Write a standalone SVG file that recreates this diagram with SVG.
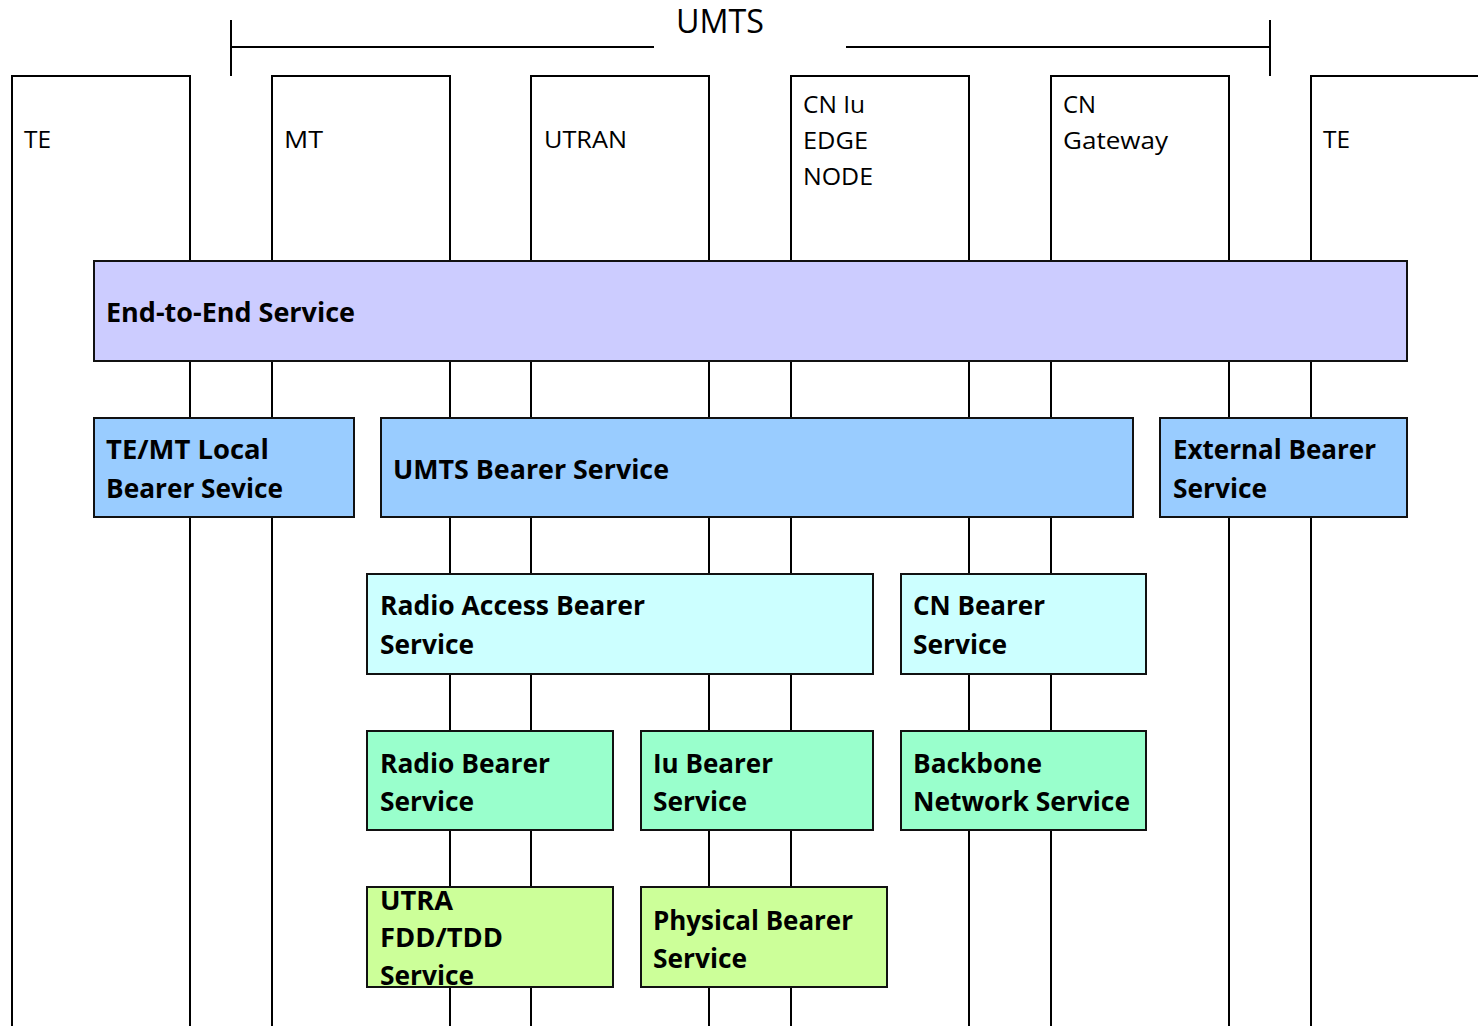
<svg xmlns="http://www.w3.org/2000/svg" width="1478" height="1026" viewBox="0 0 1478 1026">
<style>
.col{fill:none;stroke:#000;stroke-width:2}
.br{fill:none;stroke:#000;stroke-width:2}
.box{stroke:#111;stroke-width:2}
.lbl{font-family:"Open Sans","Liberation Sans",sans-serif;font-size:23px;fill:#000}
.ttl{font-family:"Open Sans","Liberation Sans",sans-serif;font-size:33px;fill:#000}
.b{font-family:"Open Sans","Liberation Sans",sans-serif;font-size:26px;font-weight:bold;fill:#000}
.e2e{fill:#ccccff}.bl{fill:#99ccff}.cy{fill:#ccffff}.gr{fill:#99ffcc}.lg{fill:#ccff99}
</style>
<rect width="1478" height="1026" fill="#fff"/>
<g id="umts-bracket">
<path class="br" d="M231 20V76M231 47H654M846 47H1270M1270 20V76"/>
<text class="ttl" x="676" y="33" textLength="88" lengthAdjust="spacingAndGlyphs">UMTS</text>
</g>
<g id="connectors">
<g id="col-te-left"><path class="col" d="M12 1026V76H190V1026"/><text class="lbl" x="24" y="148" textLength="27" lengthAdjust="spacingAndGlyphs">TE</text></g>
<g id="col-mt"><path class="col" d="M272 1026V76H450V1026"/><text class="lbl" x="284" y="148" textLength="39" lengthAdjust="spacingAndGlyphs">MT</text></g>
<g id="col-utran"><path class="col" d="M531 1026V76H709V1026"/><text class="lbl" x="544" y="148" textLength="83" lengthAdjust="spacingAndGlyphs">UTRAN</text></g>
<g id="col-cn-iu"><path class="col" d="M791 1026V76H969V1026"/><text class="lbl" x="803" y="113" textLength="62" lengthAdjust="spacingAndGlyphs">CN Iu</text><text class="lbl" x="803" y="149" textLength="65" lengthAdjust="spacingAndGlyphs">EDGE</text><text class="lbl" x="803" y="185" textLength="70" lengthAdjust="spacingAndGlyphs">NODE</text></g>
<g id="col-cn-gw"><path class="col" d="M1051 1026V76H1229V1026"/><text class="lbl" x="1063" y="113" textLength="33" lengthAdjust="spacingAndGlyphs">CN</text><text class="lbl" x="1063" y="149" textLength="105" lengthAdjust="spacingAndGlyphs">Gateway</text></g>
<g id="col-te-right"><path class="col" d="M1311 1026V76H1480"/><text class="lbl" x="1323" y="148" textLength="27" lengthAdjust="spacingAndGlyphs">TE</text></g>
</g>
<g id="end-to-end"><rect class="box e2e" x="94" y="261" width="1313" height="100"/><text class="b" x="106" y="322" textLength="249" lengthAdjust="spacingAndGlyphs">End-to-End Service</text></g>
<g id="te-mt-local"><rect class="box bl" x="94" y="418" width="260" height="99"/><text class="b" x="106" y="459" textLength="163" lengthAdjust="spacingAndGlyphs">TE/MT Local</text><text class="b" x="106" y="498" textLength="177" lengthAdjust="spacingAndGlyphs">Bearer Sevice</text></g>
<g id="umts-bearer"><rect class="box bl" x="381" y="418" width="752" height="99"/><text class="b" x="393" y="479" textLength="276" lengthAdjust="spacingAndGlyphs">UMTS Bearer Service</text></g>
<g id="external-bearer"><rect class="box bl" x="1160" y="418" width="247" height="99"/><text class="b" x="1173" y="459" textLength="203" lengthAdjust="spacingAndGlyphs">External Bearer</text><text class="b" x="1173" y="498" textLength="94" lengthAdjust="spacingAndGlyphs">Service</text></g>
<g id="radio-access-bearer"><rect class="box cy" x="367" y="574" width="506" height="100"/><text class="b" x="380" y="615" textLength="265" lengthAdjust="spacingAndGlyphs">Radio Access Bearer</text><text class="b" x="380" y="654" textLength="94" lengthAdjust="spacingAndGlyphs">Service</text></g>
<g id="cn-bearer"><rect class="box cy" x="901" y="574" width="245" height="100"/><text class="b" x="913" y="615" textLength="132" lengthAdjust="spacingAndGlyphs">CN Bearer</text><text class="b" x="913" y="654" textLength="94" lengthAdjust="spacingAndGlyphs">Service</text></g>
<g id="radio-bearer"><rect class="box gr" x="367" y="731" width="246" height="99"/><text class="b" x="380" y="773" textLength="170" lengthAdjust="spacingAndGlyphs">Radio Bearer</text><text class="b" x="380" y="811" textLength="94" lengthAdjust="spacingAndGlyphs">Service</text></g>
<g id="iu-bearer"><rect class="box gr" x="641" y="731" width="232" height="99"/><text class="b" x="653" y="773" textLength="120" lengthAdjust="spacingAndGlyphs">Iu Bearer</text><text class="b" x="653" y="811" textLength="94" lengthAdjust="spacingAndGlyphs">Service</text></g>
<g id="backbone"><rect class="box gr" x="901" y="731" width="245" height="99"/><text class="b" x="913" y="773" textLength="129" lengthAdjust="spacingAndGlyphs">Backbone</text><text class="b" x="913" y="811" textLength="217" lengthAdjust="spacingAndGlyphs">Network Service</text></g>
<g id="utra-fdd-tdd"><rect class="box lg" x="367" y="887" width="246" height="100"/><text class="b" x="380" y="910" textLength="73" lengthAdjust="spacingAndGlyphs">UTRA</text><text class="b" x="380" y="947" textLength="123" lengthAdjust="spacingAndGlyphs">FDD/TDD</text><text class="b" x="380" y="985" textLength="94" lengthAdjust="spacingAndGlyphs">Service</text></g>
<g id="physical-bearer"><rect class="box lg" x="641" y="887" width="246" height="100"/><text class="b" x="653" y="930" textLength="200" lengthAdjust="spacingAndGlyphs">Physical Bearer</text><text class="b" x="653" y="968" textLength="94" lengthAdjust="spacingAndGlyphs">Service</text></g>
</svg>
